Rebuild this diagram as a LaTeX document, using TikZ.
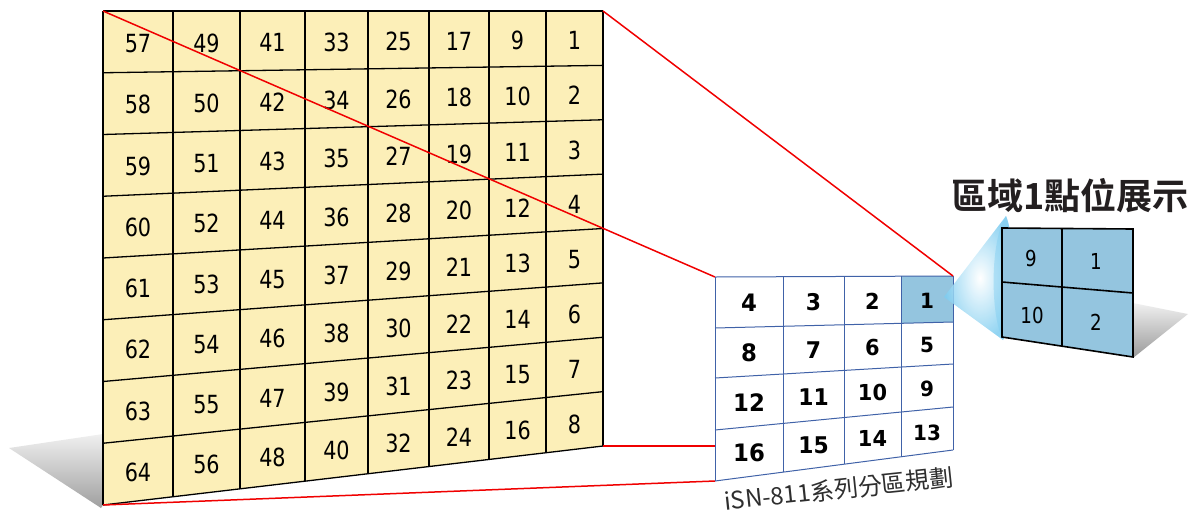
\documentclass[tikz,border=0pt]{standalone}
\usepackage{fontspec}
\setmainfont{DejaVu Sans}
\newfontfamily\numfont[FakeStretch=0.83]{DejaVu Sans}
\newfontfamily\boldnumfont[FakeStretch=0.95]{DejaVu Sans}
\newfontfamily\cjk[BoldFont={Noto Sans CJK TC Bold}]{Noto Sans CJK TC}
\definecolor{bigfill}{HTML}{FCEFB8}
\definecolor{gridblue}{HTML}{4062A8}
\definecolor{cellblue}{HTML}{94C5DF}
\definecolor{coneblue}{HTML}{7FCDF0}
\definecolor{labelgray}{HTML}{2E2E2E}
\definecolor{titlecol}{HTML}{231F20}
\definecolor{redline}{HTML}{F00000}
\tikzset{
  bigline/.style={black, line width=1.3pt},
  smallline/.style={gridblue, line width=1pt},
  redconn/.style={redline, line width=1.5pt},
  bignum/.style={font=\numfont\fontsize{25}{25}\selectfont, inner sep=0pt},
  panelnum/.style={font=\numfont\fontsize{22}{22}\selectfont, inner sep=0pt},
  labeltext/.style={font=\cjk\fontsize{24}{24}\selectfont, text=labelgray, inner sep=0pt},
  titletext/.style={font=\cjk\bfseries\fontsize{36}{36}\selectfont, text=titlecol, inner sep=0pt},
}
\begin{document}
\begin{tikzpicture}[x=1pt,y=-1pt]
\useasboundingbox (0,0) rectangle (1203,515);
% shadows
\shade[top color=gray!12, bottom color=gray!75] (9,448) -- (103,434) -- (103,505) -- (101,508) -- cycle;
\shade[top color=gray!12, bottom color=gray!80] (1133,303) -- (1188,314) -- (1133,358) -- cycle;
% big grid
\coordinate (BTL) at (103,11);
\coordinate (BTR) at (603,11);
\coordinate (BBR) at (603,446);
\coordinate (BBL) at (103,505);
\fill[bigfill] (BTL) -- (BTR) -- (BBR) -- (BBL) -- cycle;
\def\bx{{103,173,240,305,368,429,489,546,603}}
\foreach \x in {103,173,240,305,368,429,489,546,603}{
  \draw[bigline] (\x,11) -- (\x,{11+8*(61.75-7.375*(\x-103)/500)});
}
\foreach \i in {0,...,8}{
  \draw[bigline] (103,{11+\i*61.75}) -- (603,{11+\i*54.375});
}
\foreach \j in {0,...,7}{
  \foreach \r in {0,...,7}{
    \pgfmathsetmacro\xa{\bx[\j]}
    \pgfmathsetmacro\xb{\bx[\j+1]}
    \pgfmathsetmacro\xc{(\xa+\xb)/2}
    \pgfmathsetmacro\yc{11+(\r+0.5)*(61.75-7.375*(\xc-103)/500)+2}
    \pgfmathtruncatemacro\n{57-8*\j+\r}
    \node[bignum] (b\n) at (\xc,\yc) {\n};
  }
}
% small grid
\coordinate (STL) at (715,277);
\coordinate (STR) at (953,276);
\coordinate (SBR) at (953,450);
\coordinate (SBL) at (715,481);
\coordinate (SML) at (715,446);
\fill[white] (STL) -- (STR) -- (SBR) -- (SBL) -- cycle;
\def\sx{{715,783,844,901,953}}
\def\sL{{277,328,378,430,481}}
\def\sR{{276,322,364,407,450}}
\pgfmathsetmacro\ya{277+(276-277)*(901-715)/238}
\pgfmathsetmacro\yb{328+(322-328)*(901-715)/238}
\fill[cellblue] (901,\ya) -- (953,276) -- (953,322) -- (901,\yb) -- cycle;
\foreach \x in {715,783,844,901,953}{
  \draw[smallline] (\x,{277+(276-277)*(\x-715)/238}) -- (\x,{481+(450-481)*(\x-715)/238});
}
\foreach \i in {0,...,4}{
  \pgfmathsetmacro\yl{\sL[\i]}
  \pgfmathsetmacro\yr{\sR[\i]}
  \draw[smallline] (715,\yl) -- (953,\yr);
}
\foreach \j in {0,...,3}{
  \foreach \r in {0,...,3}{
    \pgfmathsetmacro\xa{\sx[\j]}
    \pgfmathsetmacro\xb{\sx[\j+1]}
    \pgfmathsetmacro\xc{(\xa+\xb)/2}
    \pgfmathsetmacro\t{(\xc-715)/238}
    \pgfmathsetmacro\ytop{\sL[\r]+(\sR[\r]-\sL[\r])*\t}
    \pgfmathsetmacro\ybot{\sL[\r+1]+(\sR[\r+1]-\sL[\r+1])*\t}
    \pgfmathsetmacro\yc{(\ytop+\ybot)/2+1}
    \pgfmathtruncatemacro\n{4*(\r+1)-\j}
    \pgfmathtruncatemacro\fs{24-1*\j}
    \node[inner sep=0pt, font=\boldnumfont\bfseries\fontsize{\fs}{\fs}\selectfont] (s\n) at (\xc,\yc) {\n};
  }
}
% red connectors
\draw[redconn] (BTL) -- (STL);
\draw[redconn] (BTR) -- (STR);
\draw[redconn] (BBR) -- (SML);
\draw[redconn] (BBL) -- (SBL);
% cone
\coordinate (apex) at (944,297);
\coordinate (ctop) at (1006,216);
\coordinate (cbot) at (1003,340);
\shade[inner color=white, outer color=coneblue, opacity=0.85] (apex) -- (ctop) .. controls (1016,240) and (1016,315) .. (cbot) -- cycle;
\fill[coneblue, opacity=0.45] (ctop) .. controls (990,240) and (990,315) .. (cbot) .. controls (1016,315) and (1016,240) .. (ctop);
% panel
\coordinate (PTL) at (1002,228);
\coordinate (PTR) at (1133,229);
\coordinate (PBR) at (1133,357);
\coordinate (PBL) at (1002,337);
\coordinate (PMT) at (1062,228.5);
\coordinate (PMB) at (1062,{337+(357-337)*60/131});
\coordinate (PML) at (1002,282);
\coordinate (PMR) at (1133,293);
\fill[cellblue] (PTL) -- (PTR) -- (PBR) -- (PBL) -- cycle;
\draw[black, line width=1.6pt] (PTL) -- (PTR) -- (PBR) -- (PBL) -- cycle;
\draw[black, line width=1.6pt] (PMT) -- (PMB);
\draw[black, line width=1.6pt] (PML) -- (PMR);
\node[panelnum] (p9) at (1031,258) {9};
\node[panelnum] (p1) at (1096,261) {1};
\node[panelnum] (p10) at (1032,315) {10};
\node[panelnum] (p2) at (1096,322) {2};
% texts
\node[titletext] (title) at (1070,196) {區域1點位展示};
\node[labeltext, rotate=6] (label) at (839,489) {iSN-811系列分區規劃};
\end{tikzpicture}
\end{document}
